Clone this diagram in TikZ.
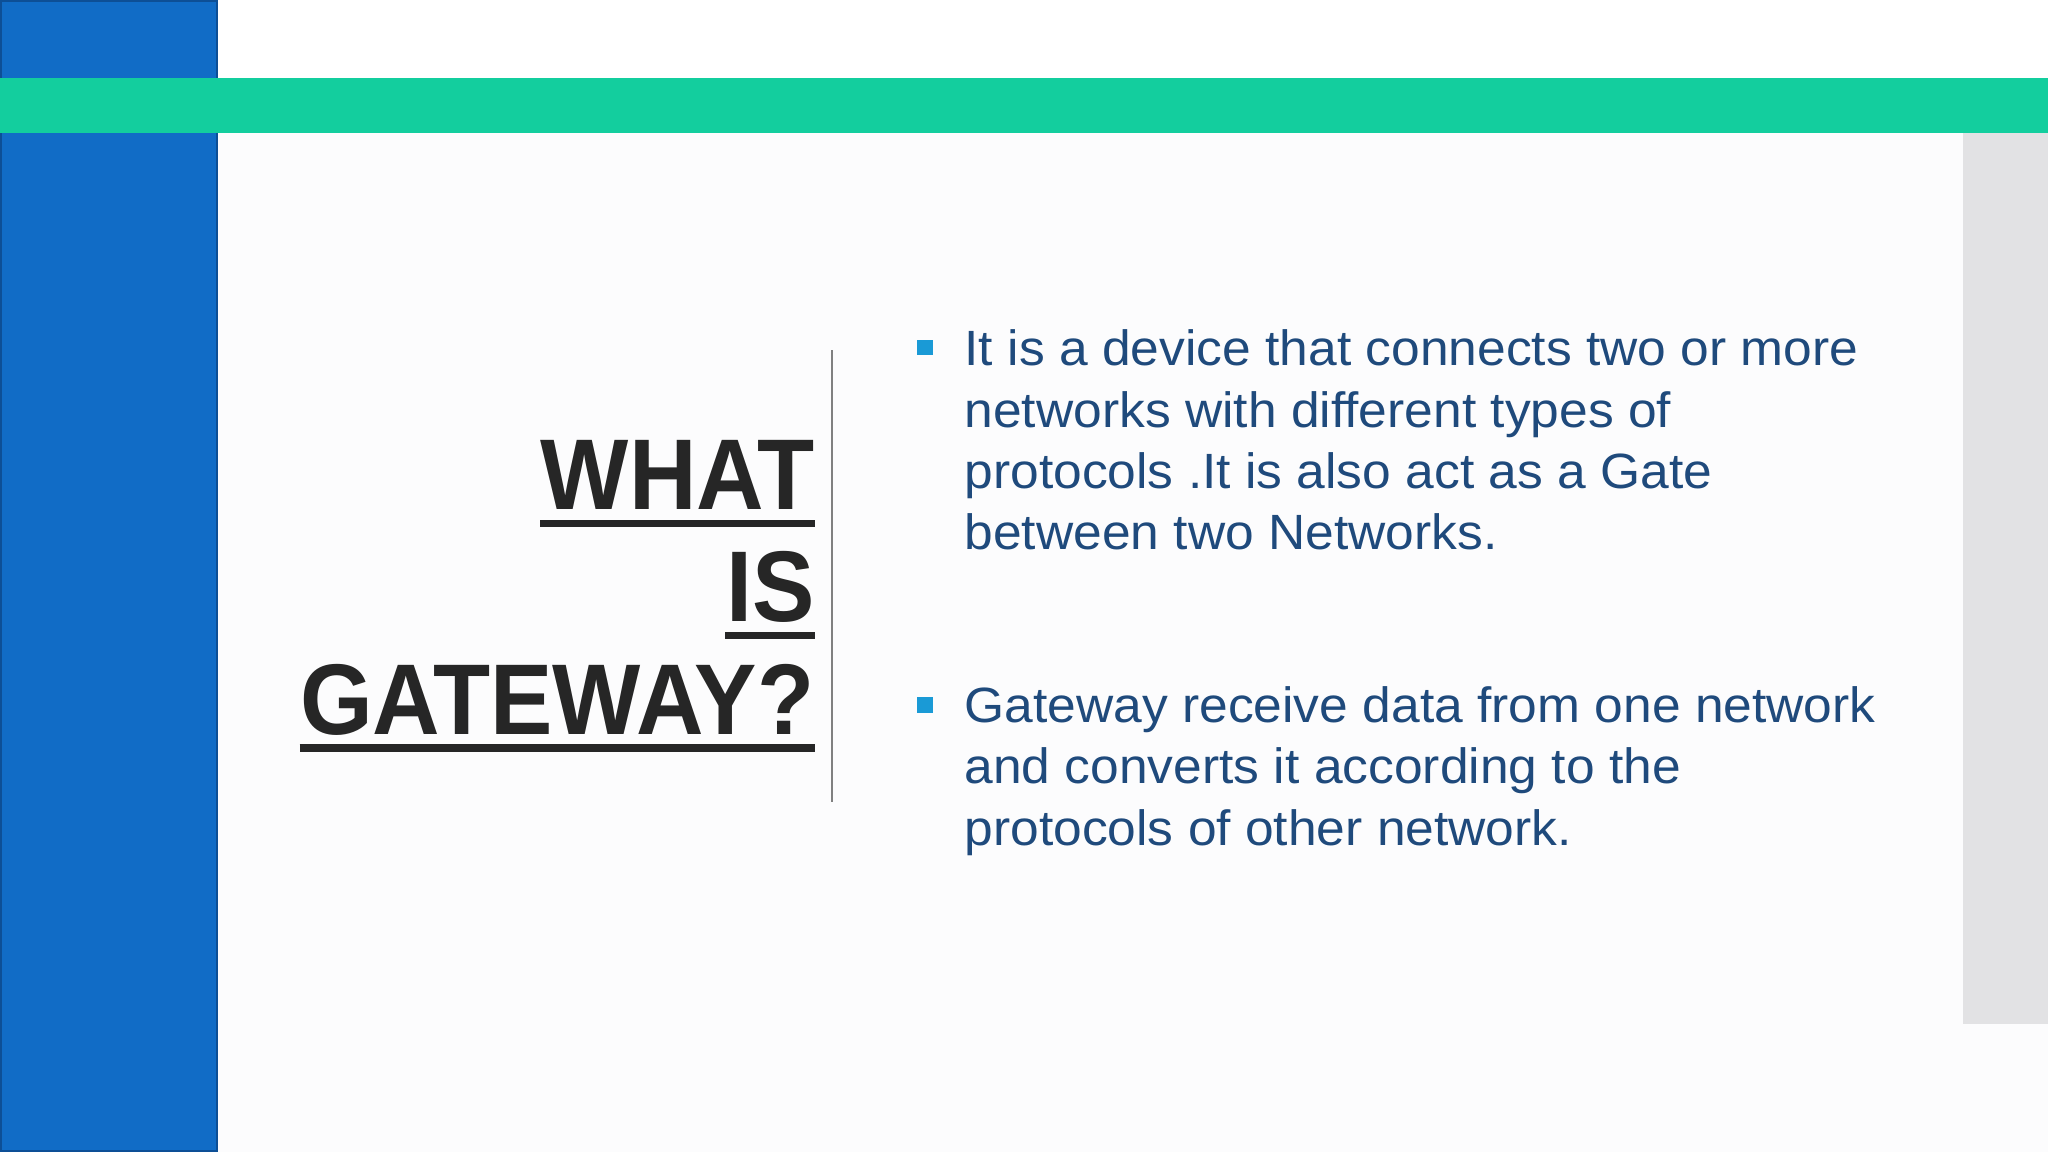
\documentclass[tikz,border=0pt]{standalone}
\usepackage{fontspec}
\setmainfont{Liberation Sans}
\definecolor{bluebar}{HTML}{116CC6}
\definecolor{blueedge}{HTML}{0D4F96}
\definecolor{greenbar}{HTML}{13CE9E}
\definecolor{greyside}{HTML}{E2E2E4}
\definecolor{bodytxt}{HTML}{1F4A7C}
\definecolor{bulletc}{HTML}{1A9AD6}
\definecolor{titletxt}{HTML}{262626}
\definecolor{bg}{HTML}{FCFCFD}
\tikzset{
  title/.style={anchor=base east,inner sep=0pt,xscale=0.93,font=\fontsize{28.6}{30}\selectfont\bfseries,text=titletxt},
  body/.style={anchor=base west,inner sep=0pt,xscale=1.04,font=\fontsize{14.1}{15}\selectfont,text=bodytxt},
  ul/.style={line width=5.5pt*0.3706,draw=titletxt},
  bul/.style={fill=bulletc,draw=none}
}
\begin{document}
\begin{tikzpicture}[x=0.013061cm,y=-0.013061cm]
\useasboundingbox (0,0) rectangle (1568,882);
\fill[bg] (0,0) rectangle (1568,882);
\fill[white] (0,0) rectangle (1568,60);
\fill[greyside] (1503,102) rectangle (1568,784);
\filldraw[fill=bluebar,draw=blueedge,line width=0.6pt] (0.5,0.5) rectangle (166,881);
\fill[greenbar] (0,60) rectangle (1568,102);
\coordinate (vt) at (637,268); \coordinate (vb) at (637,614);
\draw[gray,line width=0.6pt] (vt) -- (vb);
\node[title] (what) at (624,390) {WHAT};
\node[title] (is) at (624,476) {IS};
\node[title] (gw) at (624,562) {GATEWAY?};
\foreach \n in {what,is,gw}{
  \draw[ul] ([yshift=-0.14cm]\n.base west) -- ([yshift=-0.14cm]\n.base east);
}
\fill[bul] (702,260) rectangle (714,272);
\fill[bul] (702,534) rectangle (714,546);
\node[body] (a1) at (738,280) {It is a device that connects two or more};
\node[body] (a2) at (738,327) {networks with different types of};
\node[body] (a3) at (738,374) {protocols .It is also act as a Gate};
\node[body] (a4) at (738,421) {between two Networks.};
\node[body] (b1) at (738,553) {Gateway receive data from one network};
\node[body] (b2) at (738,600) {and converts it according to the};
\node[body] (b3) at (738,647) {protocols of other network.};
\end{tikzpicture}
\end{document}
